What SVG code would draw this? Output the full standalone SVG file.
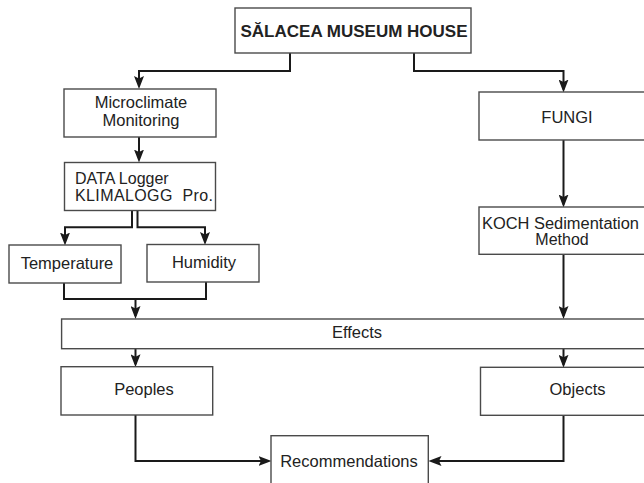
<svg xmlns="http://www.w3.org/2000/svg" width="644" height="483" viewBox="0 0 644 483">
  <defs>
    <marker id="arrow" viewBox="0 0 13 10" refX="10" refY="5" markerWidth="13" markerHeight="10" markerUnits="userSpaceOnUse" orient="auto">
      <path d="M0,0 L13,5 L0,10 L2.5,5 z" fill="#1a1a1a"/>
    </marker>
    <style>
      .box { fill: #ffffff; stroke: #4a4a4a; stroke-width: 1.4; }
      .lbl { font-family: "Liberation Sans", Arial, sans-serif; font-size: 16.5px; fill: #222222; }
      .mid { text-anchor: middle; }
      .title { font-weight: bold; font-size: 17px; }
      .link { fill: none; stroke: #1a1a1a; stroke-width: 2; marker-end: url(#arrow); }
      .plain { fill: none; stroke: #1a1a1a; stroke-width: 2; }
    </style>
  </defs>

  <rect width="644" height="483" fill="#ffffff"/>

  <!-- connectors -->
  <g id="connectors">
    <path class="link" d="M290,53 V71 H139 V86"/>
    <path class="link" d="M414,53 V71 H563.5 V89.5"/>
    <path class="link" d="M139,137 V159.5"/>
    <path class="link" d="M132,210.5 V227.3 H65 V242.5"/>
    <path class="link" d="M137.5,210.5 V227.3 H205 V242"/>
    <path class="plain" d="M64,282.7 V299 H206 V281.7"/>
    <path class="link" d="M135.5,299 V316"/>
    <path class="link" d="M563.5,140 V204.5"/>
    <path class="link" d="M563.5,254.3 V316"/>
    <path class="link" d="M135.5,348.7 V364.2"/>
    <path class="link" d="M563.5,348.7 V364.8"/>
    <path class="link" d="M135.5,415 V461 H268.5"/>
    <path class="link" d="M563.5,415.3 V461 H431.5"/>
  </g>

  <g id="museum-house">
    <rect class="box" x="235" y="8" width="236" height="45"/>
    <text class="lbl mid title" x="354" y="37">SĂLACEA MUSEUM HOUSE</text>
  </g>

  <g id="microclimate">
    <rect class="box" x="64" y="89" width="152" height="48"/>
    <text class="lbl mid" x="141" y="107.5">Microclimate</text>
    <text class="lbl mid" x="141" y="125.5">Monitoring</text>
  </g>

  <g id="fungi">
    <rect class="box" x="479" y="92" width="175" height="48"/>
    <text class="lbl mid" x="567" y="122.5">FUNGI</text>
  </g>

  <g id="data-logger">
    <rect class="box" x="64.5" y="162.5" width="151" height="48"/>
    <text class="lbl" x="75" y="183.5" style="font-size:16px">DATA Logger</text>
    <text class="lbl" x="75" y="201" style="font-size:16px" textLength="138" lengthAdjust="spacing">KLIMALOGG&#160; Pro.</text>
  </g>

  <g id="temperature">
    <rect class="box" x="9" y="245" width="112" height="38"/>
    <text class="lbl mid" x="67" y="269">Temperature</text>
  </g>

  <g id="humidity">
    <rect class="box" x="147" y="244.5" width="112" height="37.5"/>
    <text class="lbl mid" x="204" y="267.5">Humidity</text>
  </g>

  <g id="koch-method">
    <rect class="box" x="479" y="207" width="175" height="47.3"/>
    <text class="lbl" x="482" y="229" style="font-size:16px" textLength="157" lengthAdjust="spacingAndGlyphs">KOCH Sedimentation</text>
    <text class="lbl mid" x="562" y="244.5" style="font-size:16px">Method</text>
  </g>

  <g id="effects">
    <rect class="box" x="61.6" y="319" width="592" height="29.7"/>
    <text class="lbl mid" x="357" y="338.3">Effects</text>
  </g>

  <g id="peoples">
    <rect class="box" x="61" y="366.7" width="151.7" height="48.3"/>
    <text class="lbl mid" x="144" y="395">Peoples</text>
  </g>

  <g id="objects">
    <rect class="box" x="480.5" y="367.3" width="175" height="48"/>
    <text class="lbl mid" x="577.5" y="395">Objects</text>
  </g>

  <g id="recommendations">
    <rect class="box" x="271" y="435.7" width="157.3" height="60"/>
    <text class="lbl mid" x="349" y="466.7">Recommendations</text>
  </g>
</svg>
